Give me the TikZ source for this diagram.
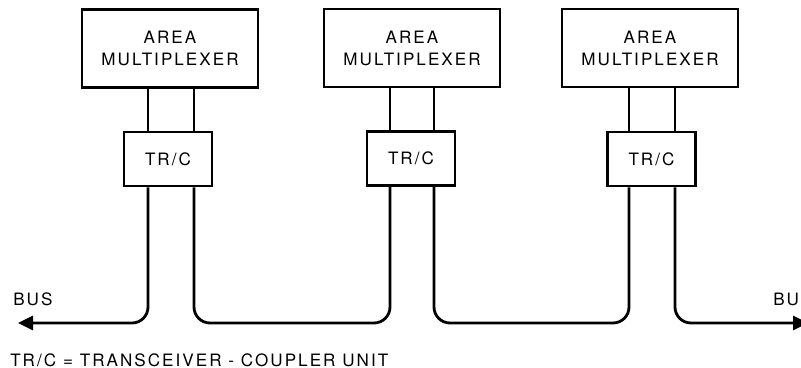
\documentclass[tikz,border=0pt]{standalone}
\usepackage{fontspec}
\setmainfont{TeX Gyre Heros}[LetterSpace=12]
\usetikzlibrary{arrows.meta}
\tikzset{
  unit/.style={draw, line width=2.1pt, inner sep=0pt, align=center,
    font=\fontsize{12.8pt}{16.5pt}\selectfont},
  muxbox/.style={unit, minimum width=176*0.75pt, minimum height=78*0.75pt},
  trcbox/.style={unit, minimum width=88*0.75pt, minimum height=54*0.75pt},
  wire/.style={line width=2.1pt},
  busline/.style={line width=2.1pt, rounded corners=16*0.75pt},
  busarrow/.style={-{Triangle[length=15*0.75pt, width=14*0.75pt]}},
  lbl/.style={inner sep=0pt, font=\fontsize{12.8pt}{15pt}\selectfont}
}
\begin{document}
\begin{tikzpicture}[x=0.75pt, y=-0.75pt]
\useasboundingbox (0,0) rectangle (801,368);
\node[muxbox] (m1) at (170,48.5) {AREA\\MULTIPLEXER};
\node[muxbox] (m2) at (412,48) {AREA\\MULTIPLEXER};
\node[muxbox] (m3) at (650,48) {AREA\\MULTIPLEXER};
\node[trcbox] (t1) at (168,159) {TR/C};
\node[trcbox] (t2) at (411,158.5) {TR/C};
\node[trcbox] (t3) at (651.5,159) {TR/C};
\coordinate (w1a) at (148,0);
\coordinate (w1b) at (194,0);
\coordinate (w2a) at (390,0);
\coordinate (w2b) at (434,0);
\coordinate (w3a) at (629,0);
\coordinate (w3b) at (675,0);
\coordinate (bus) at (0,323);
\coordinate (endL) at (18,323);
\coordinate (endR) at (808,323);
% wires between multiplexers and TR/C units
\foreach \m/\t/\w in {m1/t1/w1a, m1/t1/w1b, m2/t2/w2a, m2/t2/w2b, m3/t3/w3a, m3/t3/w3b}
  \draw[wire] (\m.south -| \w) -- (\t.north -| \w);
% bus
\draw[busline, busarrow] (t1.south -| w1a) -- (w1a |- bus) -- (endL);
\draw[busline] (t1.south -| w1b) -- (w1b |- bus) -- (w2a |- bus) -- (t2.south -| w2a);
\draw[busline] (t2.south -| w2b) -- (w2b |- bus) -- (w3a |- bus) -- (t3.south -| w3a);
\draw[busline, busarrow] (t3.south -| w3b) -- (w3b |- bus) -- (endR);
\node[lbl, anchor=west] (busL) at (13,299) {BUS};
\node[lbl, anchor=west] (busR) at (773,299) {BUS};
\node[lbl, anchor=west] (legend) at (10,360) {TR/C = TRANSCEIVER - COUPLER UNIT};
\end{tikzpicture}
\end{document}
